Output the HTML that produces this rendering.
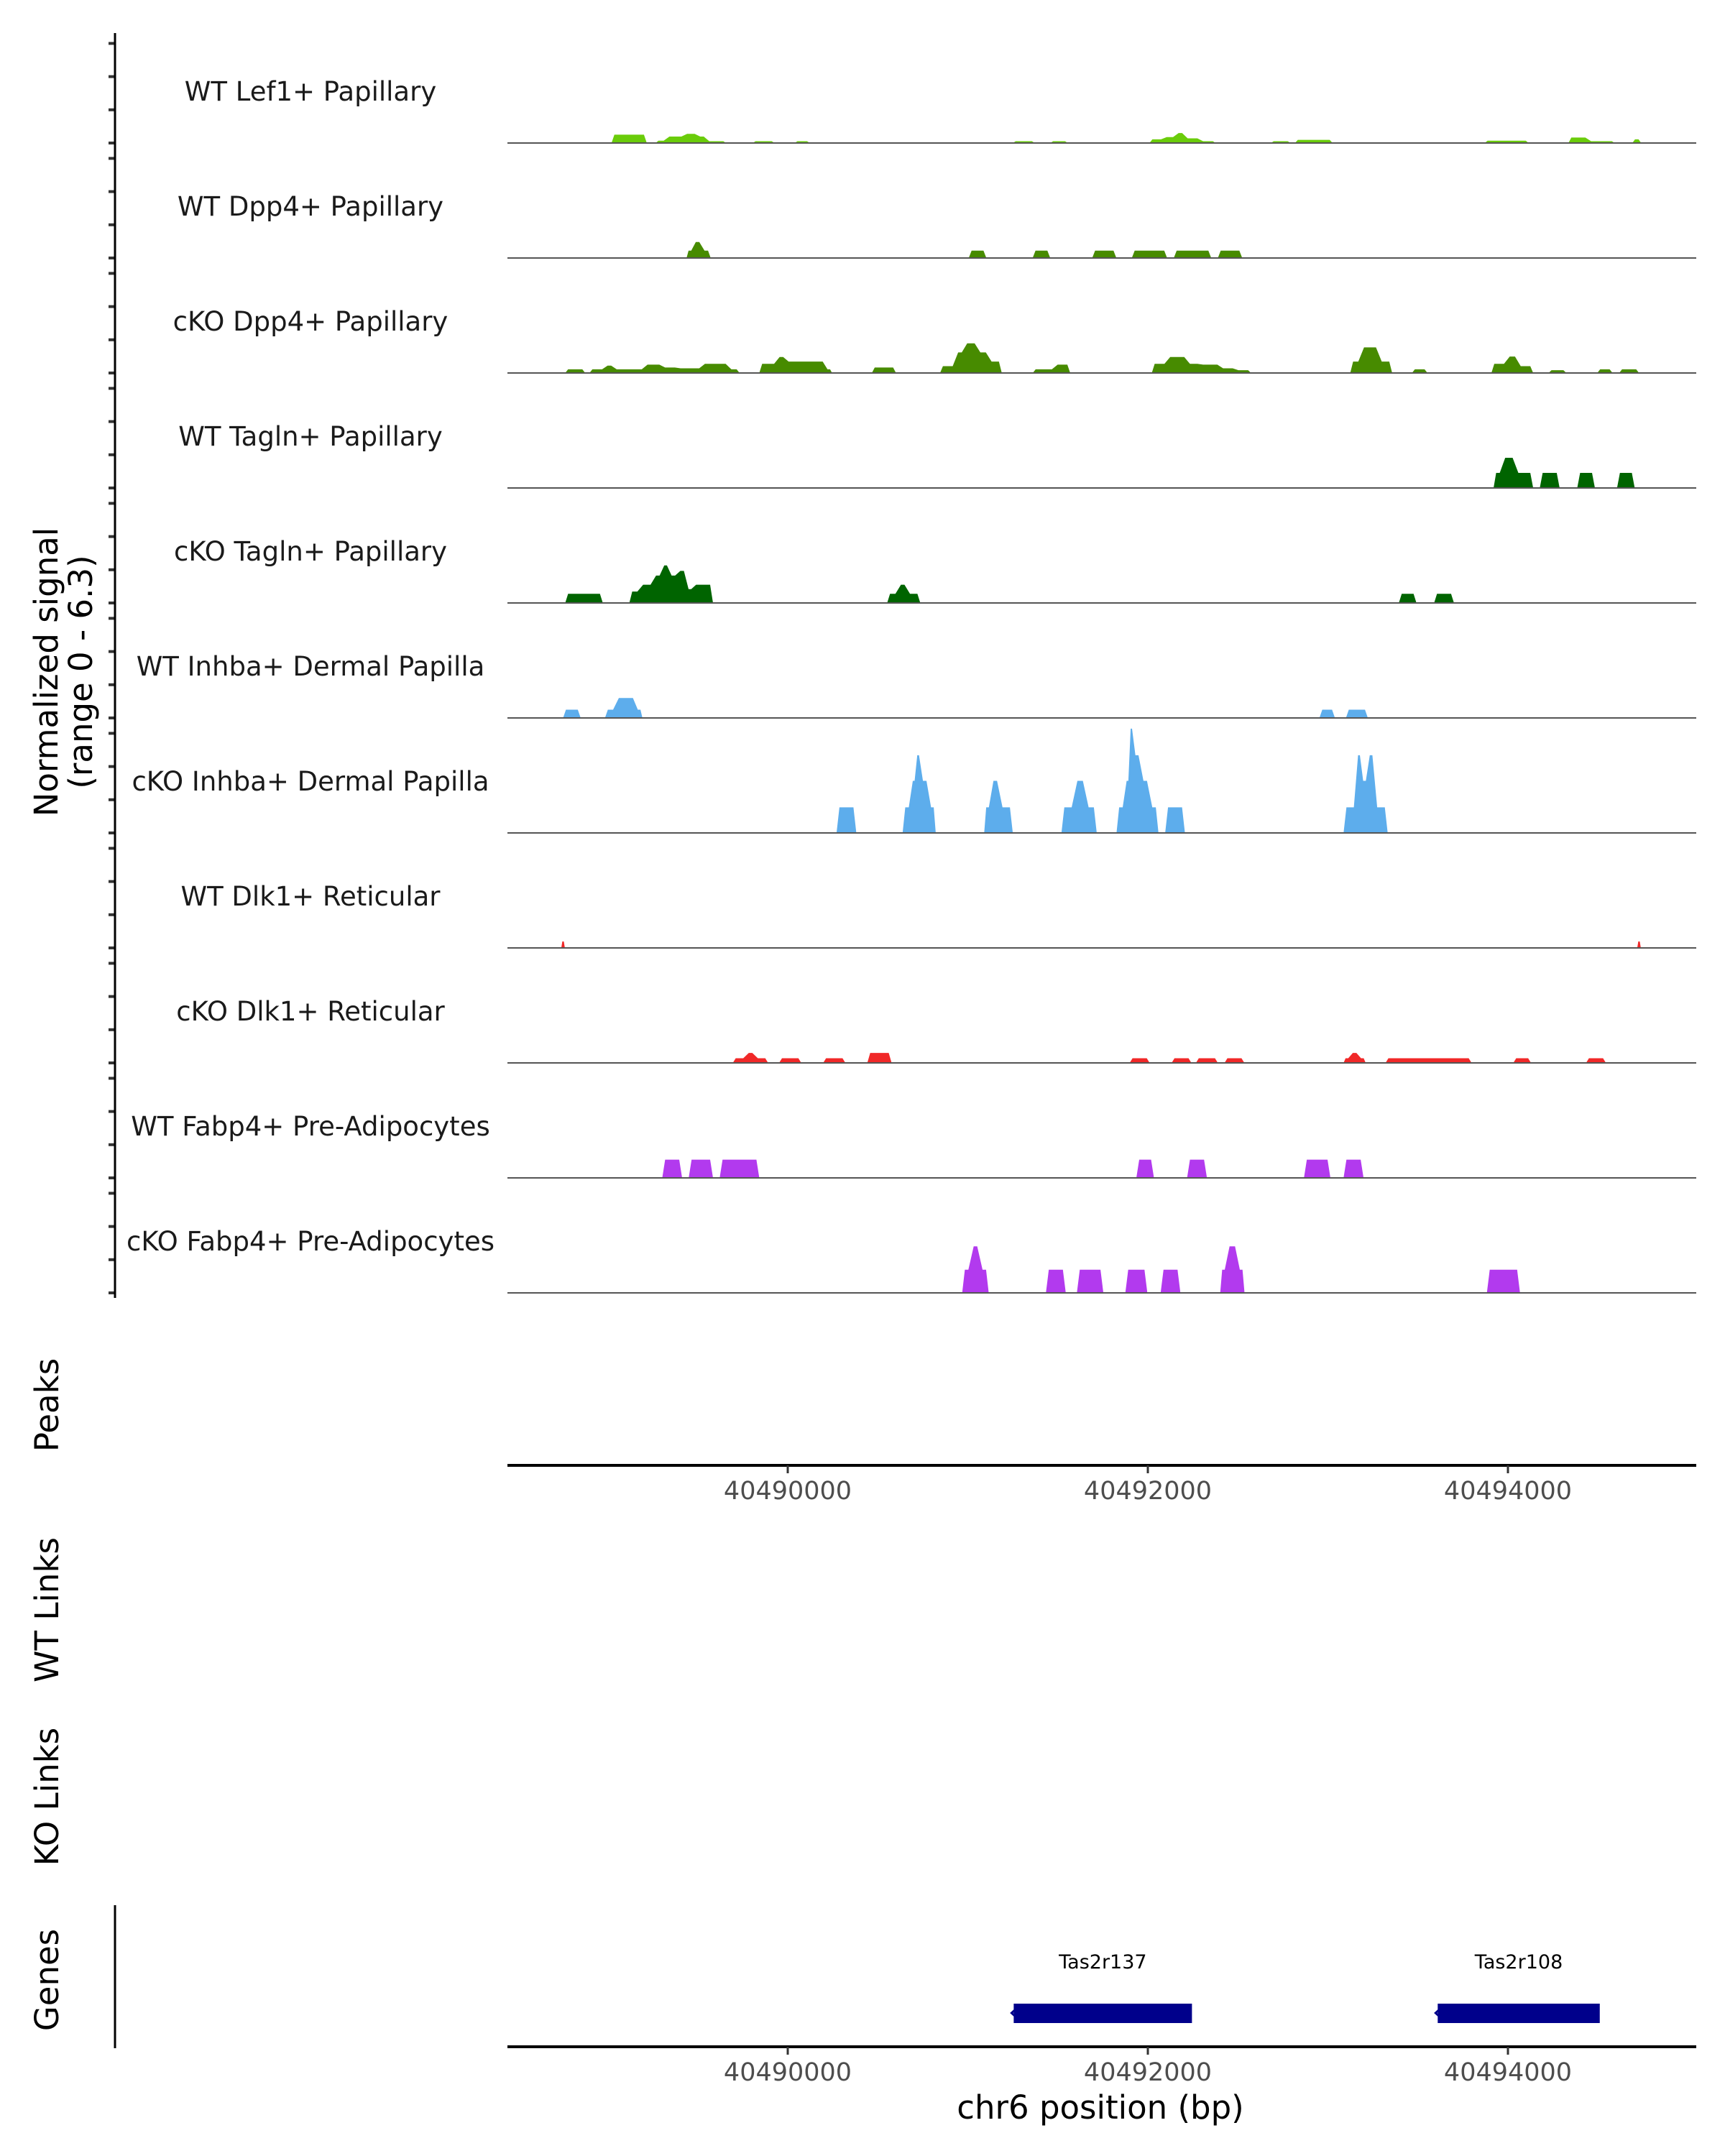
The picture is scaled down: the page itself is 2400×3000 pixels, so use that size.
<!DOCTYPE html>
<html><head><meta charset="utf-8">
<style>
html,body{margin:0;padding:0;background:#fff;}
svg{display:block;font-family:"DejaVu Sans","Liberation Sans",sans-serif;}
</style></head>
<body>
<svg id="chart" width="2400" height="3000" viewBox="0 0 2400 3000" xmlns="http://www.w3.org/2000/svg">
<g id="tracks"></g>
<g id="axes"></g>
</svg>
<script>
const trackNames = ["WT Lef1+ Papillary","WT Dpp4+ Papillary","cKO Dpp4+ Papillary","WT Tagln+ Papillary","cKO Tagln+ Papillary","WT Inhba+ Dermal Papilla","cKO Inhba+ Dermal Papilla","WT Dlk1+ Reticular","cKO Dlk1+ Reticular","WT Fabp4+ Pre-Adipocytes","cKO Fabp4+ Pre-Adipocytes"];
const trackColors = ["#6ACC0A","#478B00","#478B00","#006400","#006400","#5DADEC","#5DADEC","#F02828","#F02828","#B23AEE","#B23AEE"];
// blocks: [start bp, end bp, normalized signal]
const sigLef1WT = [[40489021,40489217,0.5],[40489266,40489327,0.14],[40489327,40489425,0.39],[40489425,40489499,0.55],[40489499,40489548,0.39],[40489548,40489658,0.11],[40489805,40489927,0.11],[40490038,40490123,0.11],[40491250,40491372,0.11],[40491458,40491556,0.11],[40492009,40492089,0.22],[40492089,40492156,0.36],[40492156,40492205,0.6],[40492205,40492291,0.28],[40492291,40492377,0.11],[40492683,40492793,0.11],[40492817,40493026,0.19],[40493871,40494115,0.14],[40494336,40494446,0.33],[40494446,40494593,0.11],[40494691,40494740,0.22]];
const sigDpp4WT = [[40489438,40489475,0.44],[40489475,40489523,0.96],[40489523,40489572,0.44],[40491005,40491103,0.44],[40491360,40491458,0.44],[40491691,40491825,0.44],[40491911,40492107,0.44],[40492144,40492352,0.44],[40492389,40492524,0.44]];
const sigDpp4KO = [[40488764,40488875,0.22],[40488899,40488985,0.22],[40488985,40489034,0.44],[40489034,40489205,0.22],[40489205,40489303,0.5],[40489303,40489389,0.33],[40489389,40489524,0.28],[40489524,40489671,0.55],[40489671,40489732,0.22],[40489842,40489940,0.55],[40489940,40489989,0.96],[40489989,40490099,0.69],[40490099,40490210,0.69],[40490210,40490246,0.22],[40490467,40490601,0.33],[40490846,40490932,0.41],[40490932,40490981,1.24],[40490981,40491054,1.79],[40491054,40491116,1.24],[40491116,40491189,0.69],[40491361,40491483,0.22],[40491483,40491569,0.5],[40492022,40492108,0.55],[40492108,40492218,0.96],[40492218,40492291,0.55],[40492291,40492402,0.5],[40492402,40492487,0.28],[40492487,40492573,0.17],[40493124,40493185,0.69],[40493185,40493283,1.54],[40493283,40493357,0.69],[40493467,40493553,0.22],[40493908,40493994,0.55],[40493994,40494055,0.99],[40494055,40494140,0.41],[40494226,40494324,0.17],[40494496,40494581,0.22],[40494618,40494728,0.22]];
const sigTaglnWT = [[40493920,40493969,0.91],[40493969,40494042,1.82],[40494042,40494140,0.91],[40494177,40494287,0.91],[40494385,40494483,0.91],[40494606,40494704,0.91]];
const sigTaglnKO = [[40488764,40488862,0.55],[40488875,40488973,0.55],[40489120,40489181,0.69],[40489181,40489254,1.1],[40489254,40489303,1.65],[40489303,40489340,2.26],[40489340,40489389,1.65],[40489389,40489438,1.93],[40489438,40489475,0.83],[40489475,40489585,1.1],[40490552,40490614,0.55],[40490614,40490663,1.1],[40490663,40490736,0.55],[40493394,40493492,0.55],[40493590,40493700,0.55]];
const sigInhbaWT = [[40488752,40488850,0.5],[40488985,40489046,0.5],[40489046,40489156,1.2],[40489156,40489193,0.5],[40492953,40493039,0.5],[40493100,40493222,0.5]];
const sigInhbaKO = [[40490271,40490381,1.54],[40490638,40490687,1.54],[40490687,40490712,3.14],[40490712,40490736,4.68],[40490736,40490785,3.14],[40490785,40490822,1.54],[40491091,40491128,1.54],[40491128,40491177,3.14],[40491177,40491250,1.54],[40491520,40491593,1.54],[40491593,40491655,3.14],[40491655,40491716,1.54],[40491826,40491875,1.54],[40491875,40491899,3.14],[40491899,40491918,6.28],[40491918,40491961,4.68],[40491961,40492010,3.14],[40492010,40492059,1.54],[40492096,40492206,1.54],[40493087,40493160,1.54],[40493160,40493185,4.68],[40493185,40493222,3.14],[40493222,40493258,4.68],[40493258,40493332,1.54]];
const sigDlk1WT = [[40488742,40488762,0.39],[40494718,40494738,0.39]];
const sigDlk1KO = [[40489695,40489769,0.28],[40489769,40489818,0.6],[40489818,40489891,0.28],[40489952,40490075,0.28],[40490197,40490320,0.28],[40490442,40490577,0.6],[40491899,40492010,0.28],[40492132,40492242,0.28],[40492267,40492389,0.28],[40492426,40492536,0.28],[40493087,40493124,0.28],[40493124,40493173,0.6],[40493173,40493210,0.28],[40493320,40493430,0.28],[40493442,40493663,0.28],[40493675,40493798,0.28],[40494030,40494128,0.28],[40494434,40494544,0.28]];
const sigFabp4WT = [[40489303,40489413,1.1],[40489450,40489585,1.1],[40489622,40489732,1.1],[40489732,40489842,1.1],[40491936,40492034,1.1],[40492218,40492328,1.1],[40492867,40493014,1.1],[40493087,40493198,1.1]];
const sigFabp4KO = [[40490969,40491018,1.4],[40491018,40491067,2.8],[40491067,40491116,1.4],[40491434,40491544,1.4],[40491606,40491753,1.4],[40491875,40491997,1.4],[40492071,40492181,1.4],[40492402,40492438,1.4],[40492438,40492500,2.8],[40492500,40492537,1.4],[40493883,40494067,1.4]];
const trackSignals = [sigLef1WT,sigDpp4WT,sigDpp4KO,sigTaglnWT,sigTaglnKO,sigInhbaWT,sigInhbaKO,sigDlk1WT,sigDlk1KO,sigFabp4WT,sigFabp4KO];
const xTicks = [40490000,40492000,40494000];
const yTickValues = [0,2,4,6];
const geneNames = ["Tas2r137","Tas2r108"];
const geneStarts = [40491255,40493610];
const geneEnds = [40492245,40494510];

const NS="http://www.w3.org/2000/svg";
const X0=706, X1=2360;
function xs(bp){ return 1096 + (bp-40490000)/3.992; }
const PXU = 23.1;
function baseY(i){ return 199 + i*160; }
function ys(i,v){ return baseY(i) - v*PXU; }
function mk(tag, attrs, parent){ const e=document.createElementNS(NS,tag); for(const k in attrs) e.setAttribute(k,attrs[k]); parent.appendChild(e); return e; }
const tracksG=document.getElementById('tracks');
const axesG=document.getElementById('axes');

trackNames.forEach((name,i)=>{
  const g=mk('g',{},tracksG);
  
  
  const lbl=mk('text',{x:432,y:baseY(i)-59,'text-anchor':'middle','font-size':37,fill:'#1a1a1a'},g);
  lbl.textContent=name;
  
  
  const blocks=trackSignals[i];
  let runs=[], cur=null;
  blocks.forEach(b=>{
    if(cur && Math.abs(b[0]-cur[cur.length-1][1])<15) cur.push(b);
    else { cur=[b]; runs.push(cur); }
  });
  const y0=baseY(i);
  runs.forEach(run=>{
    let pts=[];
    pts.push([xs(run[0][0]),y0]);
    run.forEach(b=>{
      const a=xs(b[0]), c=xs(b[1]), w=c-a, s=Math.min(4,w*0.3);
      const y1=ys(i,b[2]);
      pts.push([a+s,y1]); pts.push([c-s,y1]);
    });
    pts.push([xs(run[run.length-1][1]),y0]);
    const p=mk('polygon',{points:pts.map(q=>q[0].toFixed(1)+','+q[1].toFixed(1)).join(' '),fill:trackColors[i]},g);
    
    
  });
  const bl=mk('line',{x1:X0,x2:X1,y1:baseY(i),y2:baseY(i),stroke:'#555','stroke-width':2},g);
  
  
  yTickValues.forEach(v=>{
    const t=mk('line',{x1:151,x2:160,y1:ys(i,v),y2:ys(i,v),stroke:'#333','stroke-width':4},axesG);
    
    
  });
});

let yl=mk('line',{x1:160,x2:160,y1:46,y2:1806,stroke:'#000','stroke-width':3},axesG);


let gl=mk('line',{x1:160,x2:160,y1:2651,y2:2850,stroke:'#000','stroke-width':3},axesG);



function vtext(lines, cx, cy, name){
  const t=mk('text',{transform:`translate(${cx},${cy}) rotate(-90)`,'text-anchor':'middle','font-size':45,fill:'#000'},axesG);
  
  
  lines.forEach((l,k)=>{ const s=mk('tspan',{x:0,y:(k-(lines.length-1)/2)*48+16},t); s.textContent=l; });
}
vtext(["Normalized signal","(range 0 - 6.3)"],88,935,'y-axis-title');
vtext(["Peaks"],65,1955,'peaks-title');
vtext(["WT Links"],65,2240,'wt-links-title');
vtext(["KO Links"],65,2500,'ko-links-title');
vtext(["Genes"],65,2755,'genes-title');

function xaxis(y, name){
  const l=mk('line',{x1:X0,x2:X1,y1:y,y2:y,stroke:'#000','stroke-width':4},axesG);
  
  
  xTicks.forEach(v=>{
    const t=mk('line',{x1:xs(v),x2:xs(v),y1:y,y2:y+11,stroke:'#333','stroke-width':3},axesG);
    
    
    const tl=mk('text',{x:xs(v),y:y+47,'text-anchor':'middle','font-size':35,fill:'#4d4d4d'},axesG);
    tl.textContent=v;
    
    
  });
}
xaxis(2039,'peaks-x-axis');
xaxis(2848,'genes-x-axis');
const xt=mk('text',{x:1531,y:2948,'text-anchor':'middle','font-size':45,fill:'#000'},axesG);
xt.textContent='chr6 position (bp)';



geneNames.forEach((n,k)=>{
  const a=xs(geneStarts[k]), b=xs(geneEnds[k]);
  const r=mk('rect',{x:a,y:2788,width:b-a,height:27,fill:'#00008B'},axesG);
  
  
  const ar=mk('path',{d:`M${a+8},2791 L${a-3},2801 L${a+8},2811`,stroke:'#00008B','stroke-width':3,fill:'none'},axesG);
  
  
  const t=mk('text',{x:(a+b)/2,y:2739,'text-anchor':'middle','font-size':27,fill:'#000'},axesG);
  t.textContent=n;
  
  
});
</script>
</body></html>
